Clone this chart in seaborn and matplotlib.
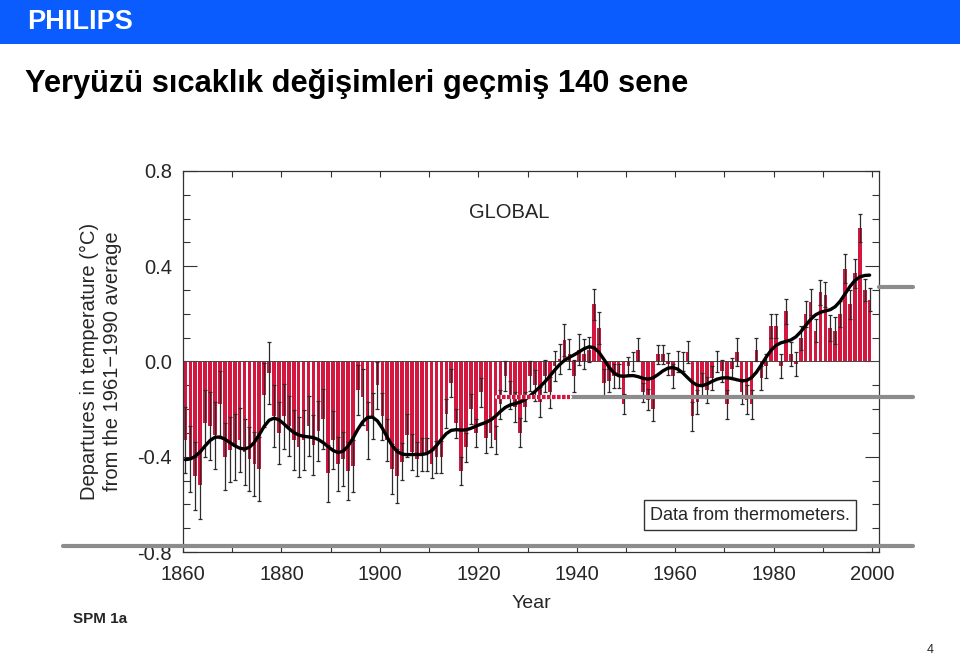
import numpy as np
import matplotlib
matplotlib.use('Agg')
import matplotlib.pyplot as plt
from matplotlib.lines import Line2D
from matplotlib.patches import Rectangle
import seaborn as sns
from math import comb

# ── Data (departures from 1961-1990 mean, °C) ──
years = list(range(1861, 2001))
anomaly = [
    -0.33, -0.41, -0.48, -0.52, -0.26, -0.27, -0.31, -0.18, -0.40, -0.37,   # 1861-1870
    -0.36, -0.33, -0.38, -0.41, -0.43, -0.45, -0.14, -0.05, -0.23, -0.30,   # 1871-1880
    -0.23, -0.27, -0.33, -0.36, -0.33, -0.27, -0.35, -0.29, -0.24, -0.47,   # 1881-1890
    -0.33, -0.43, -0.41, -0.46, -0.44, -0.12, -0.15, -0.29, -0.23, -0.10,   # 1891-1900
    -0.23, -0.33, -0.45, -0.48, -0.42, -0.31, -0.38, -0.41, -0.39, -0.39,   # 1901-1910
    -0.43, -0.40, -0.40, -0.22, -0.09, -0.26, -0.46, -0.36, -0.20, -0.30,   # 1911-1920
    -0.13, -0.32, -0.30, -0.33, -0.18, -0.06, -0.14, -0.19, -0.30, -0.19,   # 1921-1930
    -0.06, -0.10, -0.17, -0.06, -0.13, -0.02, 0.01, 0.09, 0.03, -0.06,      # 1931-1940
    0.05, 0.03, 0.05, 0.24, 0.14, -0.09, -0.08, -0.06, -0.06, -0.18,        # 1941-1950
    -0.02, 0.00, 0.05, -0.13, -0.16, -0.20, 0.03, 0.03, -0.01, -0.06,       # 1951-1960
    0.00, 0.00, 0.04, -0.23, -0.17, -0.10, -0.12, -0.07, 0.00, -0.04,       # 1961-1970
    -0.18, -0.03, 0.04, -0.13, -0.16, -0.18, 0.05, -0.07, -0.02, 0.15,      # 1971-1980
    0.15, -0.02, 0.21, 0.03, -0.01, 0.10, 0.20, 0.25, 0.13, 0.29,           # 1981-1990
    0.28, 0.14, 0.13, 0.20, 0.39, 0.24, 0.37, 0.56, 0.30, 0.26,             # 1991-2000
]
uncert = [
    0.140, 0.140, 0.143, 0.143, 0.141, 0.143, 0.141, 0.140, 0.140, 0.137,
    0.138, 0.133, 0.137, 0.133, 0.133, 0.134, 0.133, 0.130, 0.130, 0.130,
    0.137, 0.127, 0.127, 0.126, 0.127, 0.127, 0.127, 0.126, 0.126, 0.118,
    0.122, 0.115, 0.113, 0.123, 0.110, 0.106, 0.117, 0.120, 0.096, 0.098,
    0.098, 0.087, 0.105, 0.113, 0.078, 0.090, 0.074, 0.070, 0.069, 0.069,
    0.060, 0.067, 0.067, 0.061, 0.060, 0.060, 0.060, 0.061, 0.063, 0.060,
    0.061, 0.065, 0.060, 0.060, 0.060, 0.062, 0.060, 0.063, 0.061, 0.060,
    0.062, 0.065, 0.065, 0.066, 0.066, 0.063, 0.064, 0.066, 0.063, 0.066,
    0.064, 0.063, 0.054, 0.065, 0.066, 0.060, 0.050, 0.050, 0.050, 0.042,
    0.040, 0.040, 0.050, 0.040, 0.045, 0.050, 0.040, 0.040, 0.045, 0.050,
    0.045, 0.040, 0.045, 0.060, 0.050, 0.050, 0.055, 0.050, 0.045, 0.045,
    0.060, 0.045, 0.060, 0.050, 0.060, 0.060, 0.050, 0.050, 0.050, 0.050,
    0.050, 0.050, 0.053, 0.050, 0.050, 0.050, 0.055, 0.055, 0.050, 0.052,
    0.052, 0.055, 0.055, 0.055, 0.060, 0.060, 0.060, 0.060, 0.045, 0.050,
]

x_major = [1860, 1880, 1900, 1920, 1940, 1960, 1980, 2000]
x_major_labels = ['1860', '1880', '1900', '1920', '1940', '1960', '1980', '2000']
x_minor = [1870, 1890, 1910, 1930, 1950, 1970, 1990]
y_major = [0.8, 0.4, 0.0, -0.4, -0.8]
y_major_labels = ['0.8', '0.4', '0.0', '-0.4', '-0.8']
y_minor = [0.7, 0.6, 0.5, 0.3, 0.2, 0.1, -0.1, -0.2, -0.3, -0.5, -0.6, -0.7]

bar_red = '#d3173f'
philips_blue = '#0a5cff'

sns.set_style('ticks')
plt.rcParams['font.family'] = ['Liberation Sans', 'DejaVu Sans']
plt.rcParams['axes.unicode_minus'] = False
plt.rcParams['lines.scale_dashes'] = False

W, H = 960, 655
fig = plt.figure(figsize=(W / 100, H / 100), dpi=100)


def fx(px):
    return px / W


def fy(py):
    return 1 - py / H


# ── slide header ──────────────────────────────────────────
fig.patches.append(Rectangle((0, fy(44)), 1, 44 / H, transform=fig.transFigure,
                             facecolor=philips_blue, edgecolor='none', zorder=0))
fig.text(fx(27), fy(22), 'PHILIPS', color='white', fontsize=19.5,
         fontweight='bold', ha='left', va='center')
fig.text(fx(25), fy(92), 'Yeryüzü sıcaklık değişimleri geçmiş 140 sene',
         fontsize=22.2, fontweight='bold', color='black', ha='left', va='baseline')
fig.text(fx(73), fy(619), 'SPM 1a', fontsize=11, fontweight='bold',
         ha='left', va='center')
fig.text(fx(930), fy(650), '4', fontsize=9, ha='center', va='center')

# ── chart ─────────────────────────────────────────────────
ax = fig.add_axes([fx(183), fy(552), 696 / W, 381 / H])

xpos = np.array(years) - 0.5
yval = np.array(anomaly)

sns.barplot(x=xpos, y=yval, native_scale=True, orient='x', width=0.74,
            color=bar_red, saturation=1, linewidth=0, errorbar=None,
            ax=ax, zorder=2)
ax.errorbar(xpos, yval, yerr=uncert, fmt='none', ecolor='#2b2b2b',
            elinewidth=0.9, capsize=1.6, capthick=0.9, zorder=3)
ax.axhline(0, color='#444444', lw=0.7, zorder=2.5)

# 21-point binomial filter, as in the original figure
w = np.array([comb(20, k) for k in range(21)], dtype=float)
w /= w.sum()
smooth = np.convolve(np.pad(yval, 10, mode='reflect'), w, mode='valid')
sns.lineplot(x=xpos, y=smooth, color='black', linewidth=2.4, ax=ax, zorder=4)

ax.set_xlim(1860, 2001.4)
ax.set_ylim(-0.8, 0.8)
ax.set_xticks(x_major)
ax.set_xticklabels(x_major_labels)
ax.set_xticks(x_minor, minor=True)
ax.set_yticks(y_major)
ax.set_yticklabels(y_major_labels)
ax.set_yticks(y_minor, minor=True)
ax.tick_params(axis='x', which='both', direction='in', top=True, bottom=True,
               length=4, width=0.8, color='#333333', labelsize=14.5, pad=9)
ax.tick_params(axis='y', which='major', direction='in', left=True, right=True,
               length=10, width=0.8, color='#333333', labelsize=14.5, pad=8)
ax.tick_params(axis='y', which='minor', direction='in', left=True, right=True,
               length=5, width=0.8, color='#333333')
for s in ax.spines.values():
    s.set_color('#333333')
    s.set_linewidth(0.9)

ax.set_xlabel('Year', fontsize=14, labelpad=8)
ax.set_ylabel('')
fig.text(fx(101), fy(361), 'Departures in temperature (°C)\nfrom the 1961−1990 average',
         rotation=90, ha='center', va='center', multialignment='center',
         fontsize=14.5, linespacing=1.3)

ax.text(0.468, 0.892, 'GLOBAL', transform=ax.transAxes, fontsize=14.5,
        ha='center', va='center')
ax.text(0.8147, 0.097, 'Data from thermometers.', transform=ax.transAxes,
        fontsize=13, ha='center', va='center', zorder=6,
        bbox=dict(boxstyle='square,pad=0.35', facecolor='white',
                  edgecolor='#333333', linewidth=1.0))

# ── grey scan lines across the slide ──────────────────────
grey = '#8c8c8c'
fig.add_artist(Line2D([fx(570), fx(913)], [fy(397), fy(397)], transform=fig.transFigure,
                      color=grey, lw=3, zorder=10))
fig.add_artist(Line2D([fx(497), fx(570)], [fy(397), fy(397)], transform=fig.transFigure,
                      color='white', lw=3, zorder=10))
fig.add_artist(Line2D([fx(497), fx(570)], [fy(397), fy(397)], transform=fig.transFigure,
                      color=bar_red, lw=3, linestyle=(0, (2.6, 1.0)), zorder=11))
fig.add_artist(Line2D([fx(879), fx(913)], [fy(287), fy(287)], transform=fig.transFigure,
                      color=grey, lw=3, zorder=10))
fig.add_artist(Line2D([fx(63), fx(913)], [fy(546), fy(546)], transform=fig.transFigure,
                      color=grey, lw=3, zorder=10))

fig.savefig('out.png', dpi=100)
plt.close(fig)
